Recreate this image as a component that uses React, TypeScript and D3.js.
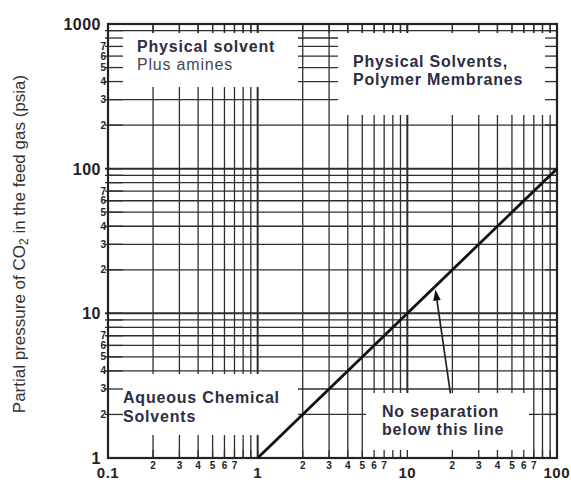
import React from "react";
import * as d3 from "d3";

// ---- data ----
const xDecades = [0.1, 1, 10];
const yDecades = [1, 10, 100];
const minorMultipliers = [2, 3, 4, 5, 6, 7, 8, 9];
const labeledMinors = [2, 3, 4, 5, 6, 7];
const xMajorLabels = ["0.1", "1", "10", "100"];
const xMajorValues = [0.1, 1, 10, 100];
const yMajorLabels = ["1", "10", "100", "1000"];
const yMajorValues = [1, 10, 100, 1000];
const separationX = [1, 100];
const separationY = [1, 100];
const arrowFrom = [19.4, 2.8];
const arrowTo = [15.4, 14.6];
const regionTopLeft = ["Physical solvent", "Plus amines"];
const regionTopRight = ["Physical Solvents,", "Polymer Membranes"];
const regionBottomLeft = ["Aqueous Chemical", "Solvents"];
const regionNote = ["No separation", "below this line"];

const W = 571;
const H = 483;
const L = 108, R = 557, T = 24, B = 458;

export default function App() {
  const x = d3.scaleLog().domain([0.1, 100]).range([L, R]);
  const y = d3.scaleLog().domain([1, 1000]).range([B, T]);

  const xGrid: { v: number; major: boolean; m: number }[] = [];
  xDecades.forEach((d) => {
    if (d !== 0.1) xGrid.push({ v: d, major: true, m: 1 });
    minorMultipliers.forEach((m) => xGrid.push({ v: d * m, major: false, m }));
  });
  const yGrid: { v: number; major: boolean; m: number }[] = [];
  yDecades.forEach((d) => {
    if (d !== 1) yGrid.push({ v: d, major: true, m: 1 });
    minorMultipliers.forEach((m) => yGrid.push({ v: d * m, major: false, m }));
  });

  const boxes = [
    { x0: L, y0: 33, x1: 298, y1: 87 },
    { x0: 338, y0: 33, x1: R, y1: 115 },
    { x0: L, y0: 374, x1: 298, y1: 435 },
    { x0: 366, y0: 393, x1: 529, y1: B },
  ];

  const gridColor = "#2e2e2e";
  const textColor = "#2d2d3f";
  const font = "'Liberation Sans', Arial, Helvetica, sans-serif";
  const rs = 16; // region label font size
  const ls = 0.8; // letter spacing

  const lineGen = d3
    .line<number>()
    .x((_, i) => x(separationX[i]))
    .y((_, i) => y(separationY[i]));

  const ax1 = x(arrowFrom[0]), ay1 = y(arrowFrom[1]);
  const ax2 = x(arrowTo[0]), ay2 = y(arrowTo[1]);
  const ang = Math.atan2(ay2 - ay1, ax2 - ax1);
  const hl = 11, hw = 3.8;
  const bx = ax2 - hl * Math.cos(ang), by = ay2 - hl * Math.sin(ang);
  const head = [
    [ax2, ay2],
    [bx + hw * Math.sin(ang), by - hw * Math.cos(ang)],
    [bx - hw * Math.sin(ang), by + hw * Math.cos(ang)],
  ];

  return (
    <svg
      width={W}
      height={H}
      style={{ position: "absolute", left: 0, top: 0, background: "#fff" }}
      fontFamily={font}
    >
      <rect x={0} y={0} width={W} height={H} fill="#fff" />
      {/* grid */}
      {xGrid.map((g, i) => (
        <line
          key={"xg" + i}
          x1={x(g.v)}
          x2={x(g.v)}
          y1={T}
          y2={B}
          stroke={gridColor}
          strokeWidth={g.major ? 2 : 1.3}
        />
      ))}
      {yGrid.map((g, i) => (
        <line
          key={"yg" + i}
          x1={L - 3}
          x2={R}
          y1={y(g.v)}
          y2={y(g.v)}
          stroke={gridColor}
          strokeWidth={g.major ? 2 : 1.3}
        />
      ))}
      {/* white label boxes */}
      {boxes.map((b, i) => (
        <rect key={"bx" + i} x={b.x0} y={b.y0} width={b.x1 - b.x0} height={b.y1 - b.y0} fill="#fff" />
      ))}
      {/* edge ticks (show through boxes) */}
      {yGrid.map((g, i) => (
        <g key={"yt" + i}>
          <line x1={L} x2={L + 15} y1={y(g.v)} y2={y(g.v)} stroke={gridColor} strokeWidth={1.3} />
          <line x1={R - 12} x2={R} y1={y(g.v)} y2={y(g.v)} stroke={gridColor} strokeWidth={1.3} />
        </g>
      ))}
      {xGrid.map((g, i) => (
        <g key={"xt" + i}>
          <line x1={x(g.v)} x2={x(g.v)} y1={T} y2={T + 9} stroke={gridColor} strokeWidth={1.3} />
          <line x1={x(g.v)} x2={x(g.v)} y1={B - 8} y2={B} stroke={gridColor} strokeWidth={1.3} />
        </g>
      ))}
      {/* frame */}
      <rect x={L} y={T} width={R - L} height={B - T} fill="none" stroke="#222" strokeWidth={2.2} />

      {/* separation line */}
      <path d={lineGen(separationX) || ""} fill="none" stroke="#111" strokeWidth={2.8} />

      {/* arrow */}
      <line x1={ax1} y1={ay1} x2={bx} y2={by} stroke="#222" strokeWidth={1.7} />
      <polygon points={head.map((p) => p.join(",")).join(" ")} fill="#111" />

      {/* y major labels */}
      {yMajorValues.map((v, i) => (
        <text
          key={"ym" + i}
          x={101}
          y={y(v) + 6}
          textAnchor="end"
          fontSize={16}
          fontWeight="bold"
          letterSpacing={0.5}
          fill="#222"
        >
          {yMajorLabels[i]}
        </text>
      ))}
      {/* y minor labels */}
      {yDecades.map((d) =>
        labeledMinors.map((m) => (
          <text
            key={"yml" + d + m}
            x={106}
            y={y(d * m) + 3.5}
            textAnchor="end"
            fontSize={10}
            fontWeight="bold"
            fill="#222"
          >
            {m}
          </text>
        ))
      )}
      {/* x major labels */}
      {xMajorValues.map((v, i) => (
        <text
          key={"xm" + i}
          x={i === 3 ? 570 : x(v)}
          y={478}
          textAnchor={i === 3 ? "end" : "middle"}
          fontSize={15}
          fontWeight="bold"
          letterSpacing={0.5}
          fill="#222"
        >
          {xMajorLabels[i]}
        </text>
      ))}
      {/* x minor labels */}
      {xDecades.map((d) =>
        labeledMinors.map((m) => (
          <text
            key={"xml" + d + m}
            x={x(d * m)}
            y={469}
            textAnchor="middle"
            fontSize={10}
            fontWeight="bold"
            fill="#222"
          >
            {m}
          </text>
        ))
      )}

      {/* y axis title */}
      <text
        transform={`translate(25,${244}) rotate(-90)`}
        textAnchor="middle"
        fontSize={17}
        fill="#333"
      >
        Partial pressure of CO<tspan fontSize={12} dy={3}>2</tspan>
        <tspan dy={-3}> in the feed gas (psia)</tspan>
      </text>

      {/* region labels */}
      <text x={137} y={52} fontSize={rs} letterSpacing={ls} fontWeight="bold" fill={textColor}>
        {regionTopLeft[0]}
      </text>
      <text x={137} y={70} fontSize={rs} letterSpacing={ls} fill="#45455a">
        {regionTopLeft[1]}
      </text>
      <text x={353} y={67} fontSize={rs} letterSpacing={ls} fontWeight="bold" fill={textColor}>
        {regionTopRight[0]}
      </text>
      <text x={353} y={85} fontSize={rs} letterSpacing={ls} fontWeight="bold" fill={textColor}>
        {regionTopRight[1]}
      </text>
      <text x={123} y={403} fontSize={rs} letterSpacing={ls} fontWeight="bold" fill={textColor}>
        {regionBottomLeft[0]}
      </text>
      <text x={123} y={422} fontSize={rs} letterSpacing={ls} fontWeight="bold" fill={textColor}>
        {regionBottomLeft[1]}
      </text>
      <text x={382} y={417} fontSize={rs} letterSpacing={ls} fontWeight="bold" fill={textColor}>
        {regionNote[0]}
      </text>
      <text x={382} y={435} fontSize={rs} letterSpacing={ls} fontWeight="bold" fill={textColor}>
        {regionNote[1]}
      </text>
    </svg>
  );
}
